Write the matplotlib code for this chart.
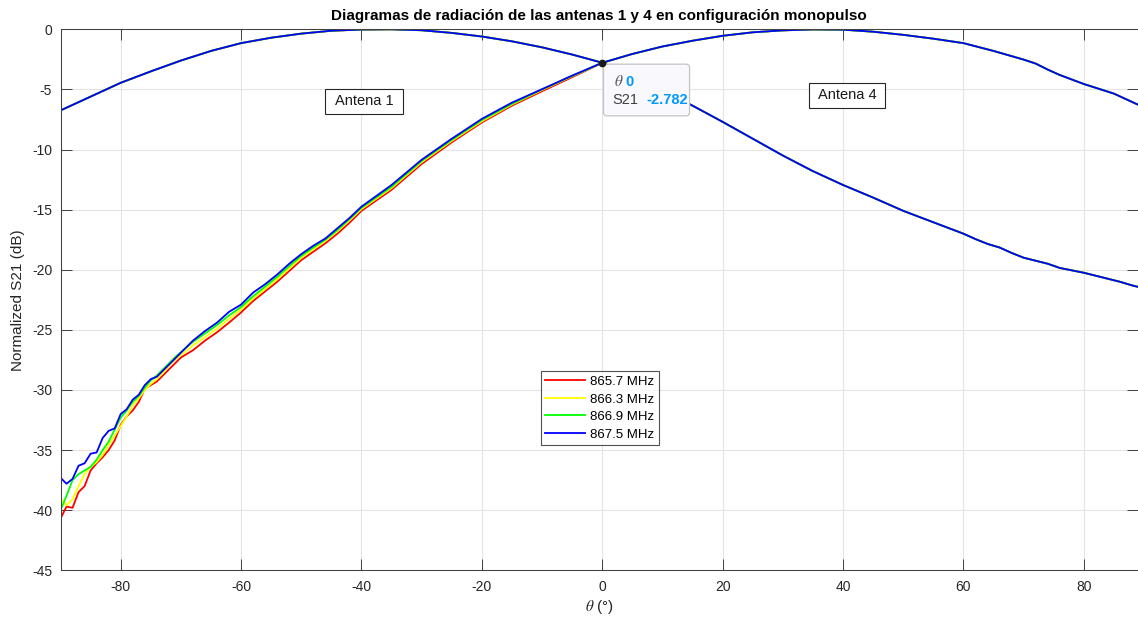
import matplotlib
matplotlib.use('Agg')
import matplotlib.pyplot as plt
from matplotlib.patches import Rectangle, FancyBboxPatch

plt.rcParams['font.family'] = ['Liberation Sans', 'DejaVu Sans']
plt.rcParams['mathtext.fontset'] = 'stix'
plt.rcParams['axes.unicode_minus'] = False

# ---------------- data ----------------
freq_labels = ['865.7 MHz', '866.3 MHz', '866.9 MHz', '867.5 MHz']
line_colors = ['#ff0000', '#ffff00', '#00ff00', '#0000ff']

# Antena 4 (peak on the right) - left part, differs per frequency
theta4_left = [-90, -89, -88, -87, -86, -85, -84, -83, -82, -81, -80, -79, -78, -77, -76,
               -75, -74, -73, -72, -71, -70, -68, -66, -64, -62, -60, -58, -56, -54, -52,
               -50, -48, -46, -44, -42, -40, -35, -30, -25, -20, -15, -10, -5, 0]
a4_left_8657 = [-40.7, -39.7, -39.8, -38.5, -38.0, -36.7, -36.1, -35.6, -35.0, -34.2, -32.9,
                -32.2, -31.7, -31.0, -29.9, -29.6, -29.3, -28.8, -28.3, -27.8, -27.3, -26.7,
                -25.9, -25.2, -24.4, -23.55, -22.6, -21.8, -21.0, -20.1, -19.2, -18.5, -17.8,
                -17.0, -16.1, -15.1, -13.35, -11.2, -9.4, -7.75, -6.35, -5.15, -3.98, -2.8]
a4_left_8663 = [-39.0, -39.6, -39.1, -38.0, -37.0, -36.4, -36.0, -35.4, -34.6, -33.8, -33.0,
                -32.2, -31.3, -30.7, -30.0, -29.5, -29.1, -28.6, -28.0, -27.5, -27.1, -26.3,
                -25.6, -24.9, -24.1, -23.3, -22.4, -21.6, -20.8, -19.9, -19.0, -18.3, -17.6,
                -16.8, -15.9, -14.95, -13.2, -11.05, -9.28, -7.65, -6.25, -5.05, -3.9, -2.79]
a4_left_8669 = [-40.0, -38.8, -37.5, -37.0, -36.7, -36.4, -35.8, -35.0, -34.3, -33.3, -32.3,
                -31.7, -31.0, -30.5, -29.8, -29.2, -28.8, -28.3, -27.8, -27.3, -26.85, -26.0,
                -25.3, -24.6, -23.8, -23.1, -22.2, -21.4, -20.6, -19.7, -18.85, -18.15, -17.5,
                -16.7, -15.8, -14.85, -13.1, -10.95, -9.2, -7.55, -6.2, -5.0, -3.88, -2.785]
a4_left_8675 = [-37.3, -37.8, -37.4, -36.3, -36.1, -35.3, -35.2, -34.0, -33.4, -33.2, -32.0,
                -31.6, -30.8, -30.4, -29.6, -29.1, -28.9, -28.4, -27.9, -27.4, -26.9, -25.9,
                -25.1, -24.4, -23.5, -22.9, -21.9, -21.2, -20.4, -19.5, -18.7, -18.0, -17.4,
                -16.55, -15.7, -14.75, -12.95, -10.85, -9.1, -7.45, -6.1, -4.98, -3.85, -2.782]

# Antena 4 - right part (all frequencies practically coincide)
theta4_right = [5, 10, 15, 20, 25, 30, 35, 40, 45, 50, 55, 60, 65, 70, 72, 74, 76, 80, 85, 90]
a4_right = [-2.05, -1.43, -0.95, -0.54, -0.25, -0.09, -0.01, -0.03, -0.2, -0.46, -0.78,
            -1.15, -1.8, -2.52, -2.85, -3.35, -3.8, -4.55, -5.35, -6.5]

# Antena 1 (peak on the left) - all frequencies practically coincide
theta1 = [-90, -85, -80, -75, -70, -65, -60, -55, -50, -45, -40, -35, -30, -25, -20, -15,
          -10, -5, 0, 5, 10, 15, 20, 25, 30, 35, 40, 45, 50, 55, 60, 62, 64, 66, 68, 70,
          72, 74, 76, 78, 80, 82, 84, 86, 88, 90]
a1 = [-6.75, -5.6, -4.45, -3.5, -2.6, -1.8, -1.15, -0.7, -0.36, -0.12, -0.02, 0.0, -0.08,
      -0.3, -0.6, -1.0, -1.5, -2.1, -2.782, -3.9, -5.1, -6.35, -7.7, -9.1, -10.5,
      -11.8, -12.95, -14.0, -15.1, -16.05, -17.0, -17.45, -17.85, -18.15, -18.6, -19.0,
      -19.25, -19.5, -19.85, -20.05, -20.25, -20.5, -20.75, -21.0, -21.3, -21.55]

tip_theta = 0
tip_s21 = -2.782

a4_left_all = [a4_left_8657, a4_left_8663, a4_left_8669, a4_left_8675]

# ---------------- figure ----------------
fig = plt.figure(figsize=(11.38, 6.19), dpi=100)
ax = fig.add_axes([60.5 / 1138, 48.7 / 619, 1077.5 / 1138, 541 / 619])

for lab, col, a4l in zip(freq_labels, line_colors, a4_left_all):
    ax.plot(theta1, a1, color=col, lw=1.3, label=lab)
    ax.plot(theta4_left + theta4_right, a4l + a4_right, color=col, lw=1.3)

ax.set_xlim(-90, 89)
ax.set_ylim(-45, 0)
ax.set_xticks([-80, -60, -40, -20, 0, 20, 40, 60, 80])
ax.set_yticks([-45, -40, -35, -30, -25, -20, -15, -10, -5, 0])
ax.tick_params(direction='in', length=7.9, width=0.6, top=True, right=True,
               labelsize=10, colors='#262626')
ax.tick_params(axis='x', pad=7)
ax.tick_params(axis='y', pad=6)
ax.grid(True, color='#e4e4e4', lw=0.8)
ax.set_axisbelow(True)
for s in ['left', 'bottom', 'top']:
    ax.spines[s].set_color('#404040')
    ax.spines[s].set_linewidth(0.75)
ax.spines['right'].set_visible(False)

ax.set_title('Diagramas de radiación de las antenas 1 y 4 en configuración monopulso',
             fontsize=11, fontweight='bold', pad=7)
ax.set_ylabel('Normalized S21 (dB)', fontsize=11, color='#262626', labelpad=5)
ax.set_xlabel(r'$\theta$ (°)', fontsize=11, color='#262626', labelpad=3)

# text boxes
for (x0, y0, w, h, txt) in [(-46.1, -7.05, 13.0, 2.1, 'Antena 1'),
                            (34.4, -6.58, 12.6, 2.15, 'Antena 4')]:
    ax.add_patch(Rectangle((x0, y0), w, h, fc='white', ec='#262626', lw=0.8, zorder=5))
    ax.text(x0 + w / 2, y0 + h / 2, txt, ha='center', va='center', fontsize=10.5,
            color='#1a1a1a', zorder=6)

# legend
leg = ax.legend(loc='upper left', bbox_to_anchor=(0.4455, 0.368), fontsize=9.5,
                frameon=True, fancybox=False, handlelength=3.0, handletextpad=0.4,
                labelspacing=0.4, borderpad=0.35, borderaxespad=0)
leg.get_frame().set_edgecolor('#262626')
leg.get_frame().set_linewidth(0.8)

# data tip
ax.plot([tip_theta], [tip_s21], 'o', color='#1a1a1a', ms=4.5, zorder=8)
ax.add_patch(FancyBboxPatch((0.2, -7.2), 14.3, 4.3,
                            boxstyle='round,pad=0,rounding_size=0.6',
                            fc='#f8f8fd', ec='#c4c4c4', lw=0.9, zorder=7,
                            mutation_aspect=0.5))
ax.text(1.9, -4.35, r'$\theta$', fontsize=11, color='#555555', va='center', zorder=9)
ax.text(3.8, -4.35, '%g' % tip_theta, fontsize=10.5, color='#0099ff', va='center',
        fontweight='bold', zorder=9)
ax.text(1.75, -5.9, 'S21', fontsize=10.5, color='#404040', va='center', zorder=9)
ax.text(7.4, -5.9, '%.3f' % tip_s21, fontsize=10.5, color='#0099ff', va='center',
        fontweight='bold', zorder=9)

fig.savefig('out.png', dpi=100)
